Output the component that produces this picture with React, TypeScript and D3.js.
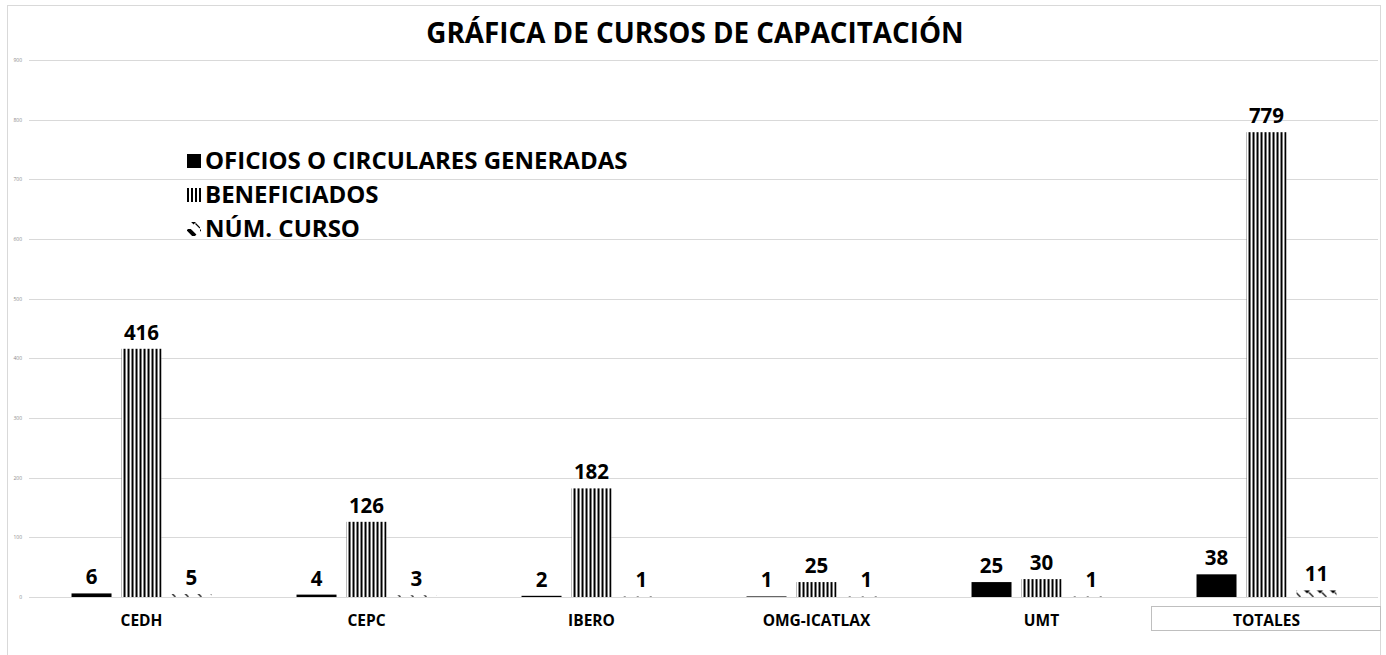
import React, { useEffect, useRef } from 'react';
import * as d3 from 'd3';

const categories = ['CEDH', 'CEPC', 'IBERO', 'OMG-ICATLAX', 'UMT', 'TOTALES'];
const seriesNames = ['OFICIOS O CIRCULARES GENERADAS', 'BENEFICIADOS', 'NÚM. CURSO'];
const oficios = [6, 4, 2, 1, 25, 38];
const beneficiados = [416, 126, 182, 25, 30, 779];
const cursos = [5, 3, 1, 1, 1, 11];
const yTicks = [0, 100, 200, 300, 400, 500, 600, 700, 800, 900];

const FONT = '"Open Sans", Lato, sans-serif';

export default function App() {
    const ref = useRef<SVGSVGElement>(null);

    useEffect(() => {
        const svg = d3.select(ref.current);
        svg.selectAll('*').remove();

        const width = 1386;
        const height = 655;
        const margin = { top: 60, right: 7, bottom: 58, left: 29 };

        const defs = svg.append('defs');
        // vertical stripes
        const stripes = defs.append('pattern')
            .attr('id', 'stripes')
            .attr('patternUnits', 'userSpaceOnUse')
            .attr('width', 4).attr('height', 4);
        stripes.append('rect').attr('width', 4).attr('height', 4).attr('fill', '#fff');
        stripes.append('rect').attr('x', 0).attr('width', 2).attr('height', 4).attr('fill', '#000');

        // wide downward diagonal dashes
        const diag = defs.append('pattern')
            .attr('id', 'diag')
            .attr('patternUnits', 'userSpaceOnUse')
            .attr('width', 13).attr('height', 13);
        diag.append('rect').attr('width', 13).attr('height', 13).attr('fill', '#fff');
        diag.append('path')
            .attr('d', 'M1,0 L8,7')
            .attr('stroke', '#000')
            .attr('stroke-width', 4)
            .attr('stroke-linecap', 'butt');
        diag.append('path')
            .attr('d', 'M8.5,7.5 L13,12')
            .attr('stroke', '#000')
            .attr('stroke-width', 1.2);

        const fills = ['#000', 'url(#stripes)', 'url(#diag)'];

        // chart border
        svg.append('rect')
            .attr('x', 7.5).attr('y', 5.5)
            .attr('width', 1373).attr('height', 700)
            .attr('fill', '#fff')
            .attr('stroke', '#d9d9d9');

        const x0 = d3.scaleBand<string>()
            .domain(categories)
            .range([margin.left, width - margin.right])
            .paddingInner(0.378)
            .paddingOuter(0.189);

        const x1 = d3.scaleBand<number>()
            .domain([0, 1, 2])
            .range([0, x0.bandwidth()])
            .paddingInner(0.2);

        const y = d3.scaleLinear()
            .domain([0, 900])
            .range([height - margin.bottom, margin.top]);

        // gridlines
        svg.append('g')
            .selectAll('line')
            .data(yTicks)
            .join('line')
            .attr('x1', margin.left).attr('x2', width - margin.right - 1)
            .attr('y1', d => Math.round(y(d)) + 0.5)
            .attr('y2', d => Math.round(y(d)) + 0.5)
            .attr('stroke', '#d9d9d9');

        svg.append('g')
            .selectAll('text')
            .data(yTicks)
            .join('text')
            .attr('x', 22)
            .attr('y', d => y(d) + 2)
            .attr('text-anchor', 'end')
            .attr('font-size', 5)
            .attr('font-family', FONT)
            .attr('fill', '#8c8c8c')
            .text(d => d);

        const series = [oficios, beneficiados, cursos];

        const groups = svg.append('g')
            .selectAll('g')
            .data(categories)
            .join('g')
            .attr('transform', d => 'translate(' + x0(d) + ',0)');

        groups.selectAll('rect')
            .data((d, i) => series.map((s, k) => ({ k, v: s[i] })))
            .join('rect')
            .attr('x', d => x1(d.k) as number)
            .attr('width', x1.bandwidth())
            .attr('y', d => y(d.v))
            .attr('height', d => y(0) - y(d.v))
            .attr('fill', d => fills[d.k]);

        groups.selectAll('text')
            .data((d, i) => series.map((s, k) => ({ k, v: s[i] })))
            .join('text')
            .attr('x', d => (x1(d.k) as number) + x1.bandwidth() / 2)
            .attr('y', d => y(d.v) - 9)
            .attr('text-anchor', 'middle')
            .attr('font-family', FONT)
            .attr('font-weight', 'bold')
            .attr('font-size', 20.5)
            .attr('fill', '#000')
            .text(d => d.v);

        // category labels
        svg.append('g')
            .selectAll('text')
            .data(categories)
            .join('text')
            .attr('x', d => (x0(d) as number) + x0.bandwidth() / 2)
            .attr('y', 626)
            .attr('text-anchor', 'middle')
            .attr('font-family', FONT)
            .attr('font-weight', 'bold')
            .attr('font-size', 15.5)
            .attr('fill', '#000')
            .text(d => d);

        // box round TOTALES label
        svg.append('rect')
            .attr('x', 1151.5).attr('y', 606.5)
            .attr('width', 229).attr('height', 24)
            .attr('fill', 'none')
            .attr('stroke', '#bfbfbf');

        // title
        svg.append('text')
            .attr('x', 695)
            .attr('y', 43)
            .attr('text-anchor', 'middle')
            .attr('font-family', FONT)
            .attr('font-weight', 'bold')
            .attr('font-size', 27.8)
            .attr('fill', '#000')
            .text('GRÁFICA DE CURSOS DE CAPACITACIÓN');

        // legend
        const legend = svg.append('g')
            .selectAll('g')
            .data(seriesNames)
            .join('g')
            .attr('transform', (d, i) => 'translate(187,' + (161 + i * 34) + ')');

        legend.append('rect')
            .attr('x', 0).attr('y', -7)
            .attr('width', 14).attr('height', 14)
            .attr('fill', (d, i) => fills[i]);

        legend.append('text')
            .attr('x', 18)
            .attr('y', 8)
            .attr('font-family', FONT)
            .attr('font-weight', 'bold')
            .attr('font-size', 24)
            .attr('fill', '#000')
            .text(d => d);
    }, []);

    return (
        <svg ref={ref} width={1386} height={655}
            style={{ position: 'absolute', left: 0, top: 0, background: '#fff' }} />
    );
}
